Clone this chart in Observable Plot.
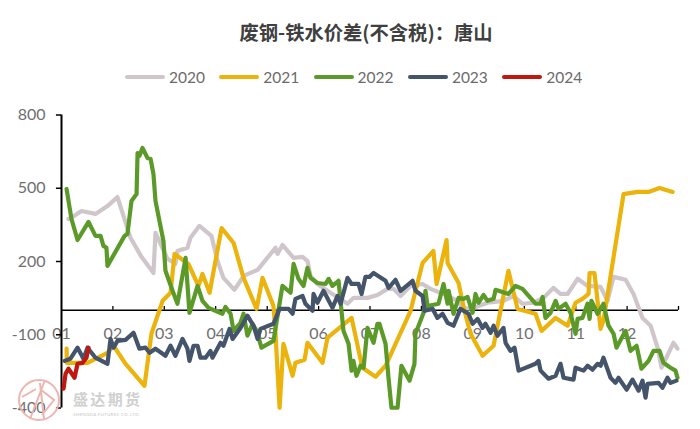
<!DOCTYPE html>
<html><head><meta charset="utf-8">
<script src="https://cdn.jsdelivr.net/npm/d3@7"></script>
<script src="https://cdn.jsdelivr.net/npm/@observablehq/plot@0.6"></script>
<style>
html,body{margin:0;padding:0;background:#fff;width:700px;height:429px;overflow:hidden}
#title{height:53px;padding-top:20px;box-sizing:border-box;margin-left:32px;text-align:center;font:bold 19.3px/24px "Noto Sans CJK SC",sans-serif;color:#404040}
#legend{height:42px;position:relative;font:15.5px/18px Lato,sans-serif;color:#6b6b6b}
#legend .k{position:absolute;top:15px;display:flex;align-items:center;gap:4px}
#legend i{display:block;width:40px;height:4px;border-radius:2px}
#chart{position:relative;height:334px}
#chart svg{display:block}
#wm{position:absolute;left:0;top:0;pointer-events:none}
</style></head><body>
<div id="title">废钢-铁水价差(不含税)：唐山</div>
<div id="legend"></div>
<div id="chart"></div>
<script>
const years = ["2020","2021","2022","2023","2024"];
const colors = ["#CFC6CB","#EBB30C","#5B9A28","#44546A","#C0170F"];
const monthLabels = ["01","02","03","04","05","06","07","08","09","10","11","12"];
const monthStarts = [0,30.4,60.8,91.2,121.7,152.1,182.5,212.9,243.3,273.8,304.2,334.6];
const yTicks = [800,500,200,-100,-400];

const days2020 = [4.1,6.5,11.8,20.1,27.2,33.1,36.1,40.8,47.3,54.4,55.6,62.7,67.4,68.6,74.5,76.3,81.6,88.7,92.3,95.8,102.3,105.9,107.7,116,126.6,127.8,130.7,137.3,142.6,145.5,147.3,151.4,159.1,169.2,172.7,181,186.9,192.9,196.4,200.6,206.5,213.6,218.3,226,234.3,237.8,243.8,252,261.5,267.4,272.7,279.2,285.2,291,295.2,299.4,305.3,311.2,318.9,323,326.6,333.7,338.4,343.7,348.5,352.6,355,362,364.4];
const vals2020 = [374,382,407,395,427,464,399,297,219,153,317,211,190,243,256,297,346,305,202,133,84,121,141,166,256,231,268,215,219,202,141,108,72,27,51,51,63,88,88,59,100,108,88,67,39,6,10,31,39,59,27,31,51,92,67,67,129,100,96,39,137,125,67,-31,-63,-153,-235,-133,-157];

const days2021 = [3,3.2,15.4,27.2,30.8,37.9,49.1,53.2,59.8,64.5,66.9,75.1,81,83.4,87.6,94.7,101.8,107.7,115.4,118.9,125.4,126.6,129,131.3,136.7,138.4,143.8,145.5,154.4,157.4,171.6,178,185.8,191.7,206.5,213.6,220,221.9,227.8,228.4,234.9,238.4,242,249.1,255.6,264.4,269.8,280.4,284,292.3,299.4,304.1,308.2,311.8,312.4,315.3,318.9,320.6,332.5,340.8,347.3,353.8,361.5];
const vals2021 = [-157,-215,-215,-174,-145,-219,-309,-96,39,72,231,190,100,149,72,337,276,133,6,133,18,-96,-399,-137,-268,-215,-202,-133,-215,-112,-31,-235,-272,-227,-2,194,243,108,288,194,112,-2,-96,-186,-145,162,6,-14,-84,-31,-63,31,47,67,153,153,-76,-43,476,485,485,501,485];

const days2022 = [3,5.9,9.5,16,20.1,23.1,24.8,26.6,27.2,37.3,39,41.4,44.4,45,46.1,47.9,50.9,52.7,54.4,55.6,60.3,61.5,65.7,68.6,73.4,75.7,80.5,83.4,87,95.2,97,100,101.8,105.9,107.7,110,113,115.4,118.3,125.4,130.7,135.5,137.3,140.2,143.2,145.5,147.3,151.4,156.2,158,160.3,163.9,166.8,169.8,171.6,172.7,174.5,176.9,178.7,181,184.6,186.9,188.1,191.7,193.5,195.2,198.8,201.1,205.9,208.8,209.4,214.2,215.3,216.5,223,226,228.4,229,231.9,234.9,237.8,240.2,243.2,244.9,246.7,249.7,252,255.6,256.8,264.4,268.6,272.7,280.4,283.4,284.6,286.3,289.3,292.3,294,298.2,301.1,304.1,305.3,308.2,311.2,312.4,313.5,317.1,320.6,323.6,326.6,328.3,333.7,336.6,340.2,343.1,347.3,350.2,353.8,356.1,360.3,363.2,364.4];
const vals2022 = [497,374,288,362,305,305,264,256,182,305,313,448,476,644,632,665,624,620,558,448,284,162,80,27,215,-10,100,39,10,-14,14,-14,-84,-51,-14,-104,-55,-84,-153,-125,100,72,190,129,100,174,133,112,108,129,100,121,-84,-137,-247,-207,-268,-227,-235,-72,-133,-55,-55,-137,-280,-399,-399,-227,-288,-219,-96,-10,80,18,27,108,27,80,-14,51,47,55,-10,67,31,63,39,47,84,67,100,88,27,27,55,-31,-10,39,6,27,-10,-96,-35,-31,27,-35,39,-14,27,-63,-96,-153,-84,-166,-145,-239,-207,-166,-166,-215,-235,-247,-276];

const days2023 = [1.8,5.3,9.5,13,15.4,20.1,27.2,29,30.8,33.1,37.9,42.6,46.1,49.7,52.1,55.6,61.5,64.5,67.4,71.6,74.5,75.7,78.1,80.5,82.2,85.2,88.1,89.3,94.1,95.8,99.4,101.2,105.9,110,113.6,116,117.7,125.4,129,134.3,136.7,138.4,142.6,144.3,148.5,149.1,151.4,155,160.3,163.3,165.1,169.2,171.6,175.7,177.5,179.8,182.2,184.6,191.7,193.5,197.6,200.6,207.7,209.4,213.6,214.8,219.5,222.4,225.4,228.4,231.9,236,240.8,243.2,246.1,249.1,250.8,253.8,255.6,257.9,261.5,262.7,265.6,268,270.4,280.4,282.2,283.4,288.1,292.3,295.2,297,302.9,304.1,308.8,311.2,314.1,317.1,318.9,320.6,324.8,327.7,329.5,334.3,337.8,341.4,343.7,345.5,346.7,353.2,355.5,358.5,360.3,363.8];
const vals2023 = [-207,-198,-153,-198,-153,-194,-219,-117,-153,-125,-121,-92,-157,-153,-174,-157,-186,-145,-186,-117,-157,-207,-145,-145,-194,-194,-166,-194,-133,-145,-76,-117,-72,-22,-63,-117,-76,-55,6,6,-14,47,59,27,-2,67,31,80,10,59,27,133,108,108,67,137,137,153,121,92,125,80,121,80,59,-2,6,-31,-14,-51,-63,6,-14,-55,-35,-72,-55,-92,-63,-104,-72,-133,-166,-153,-247,-219,-207,-247,-280,-268,-219,-276,-284,-235,-247,-227,-243,-219,-227,-194,-276,-297,-276,-325,-284,-329,-288,-358,-301,-297,-317,-276,-297,-288];

const days2024 = [1.2,2.4,4.1,7.7,9.5,12.4,14.8,16];
const vals2024 = [-321,-260,-239,-276,-219,-215,-194,-153];

const seriesDays = [days2020,days2021,days2022,days2023,days2024];
const seriesVals = [vals2020,vals2021,vals2022,vals2023,vals2024];

const legend = document.getElementById("legend");
years.forEach((y,i)=>{
  const k = document.createElement("div");
  k.className = "k";
  k.style.left = (125 + i*94.3) + "px";
  k.innerHTML = `<i style="background:${colors[i]}"></i><span>${y}</span>`;
  legend.appendChild(k);
});

const labelFont = {fontFamily:"Lato, sans-serif", fill:"#6f6f6f"};
const lines = seriesDays.map((ds,i)=>Plot.line(ds.map((d,j)=>({d,v:seriesVals[i][j]})),{
  x:"d", y:"v", stroke:colors[i], strokeWidth:4.2, strokeLinejoin:"round", strokeLinecap:"round"
}));

const plot = Plot.plot({
  width:700, height:334,
  marginTop:19.5, marginBottom:21.5, marginLeft:61, marginRight:22,
  style:{background:"transparent", overflow:"visible"},
  x:{domain:[0,365], axis:null},
  y:{domain:[-400,800], axis:null},
  marks:[
    Plot.text(monthStarts,{x:d=>d, y:-100, text:(d,i)=>monthLabels[i], fontSize:16, dy:-1, dx:0, ...labelFont}),
    Plot.text(yTicks,{x:0, y:d=>d, text:d=>String(d), textAnchor:"end", dx:-16, fontSize:16, ...labelFont}),
    Plot.ruleX(monthStarts.slice(1).concat([365]),{y1:0,y2:16,stroke:"#000",strokeWidth:1.3}),
    Plot.ruleY([0],{stroke:"#000",strokeWidth:1.5}),
    Plot.ruleX([0],{stroke:"#000",strokeWidth:2}),
    Plot.ruleY(yTicks,{x1:-3,x2:0,stroke:"#000",strokeWidth:1.5}),
    ...lines
  ]
});
const chart = document.getElementById("chart");
chart.appendChild(plot);
chart.insertAdjacentHTML("beforeend",`<svg id="wm" width="700" height="334">
<g fill="none" stroke="#EDB5B0" stroke-width="2">
<circle cx="39" cy="305" r="20"/>
<path d="M45 285 L30 324 M40 288 L44 324 M22 302 L36 294 M40 294 L54 305 L42 320"/>
</g>
<text x="73" y="310" font-family="'Noto Sans CJK SC',sans-serif" font-weight="bold" font-size="15" fill="#D0D0D0" textLength="67">盛达期货</text>
<text x="73" y="321" font-family="Lato,sans-serif" font-size="4.5" fill="#C8C8C8" textLength="67">SHENGDA FUTURES CO.,LTD.</text>
</svg>`);
</script>
</body></html>
